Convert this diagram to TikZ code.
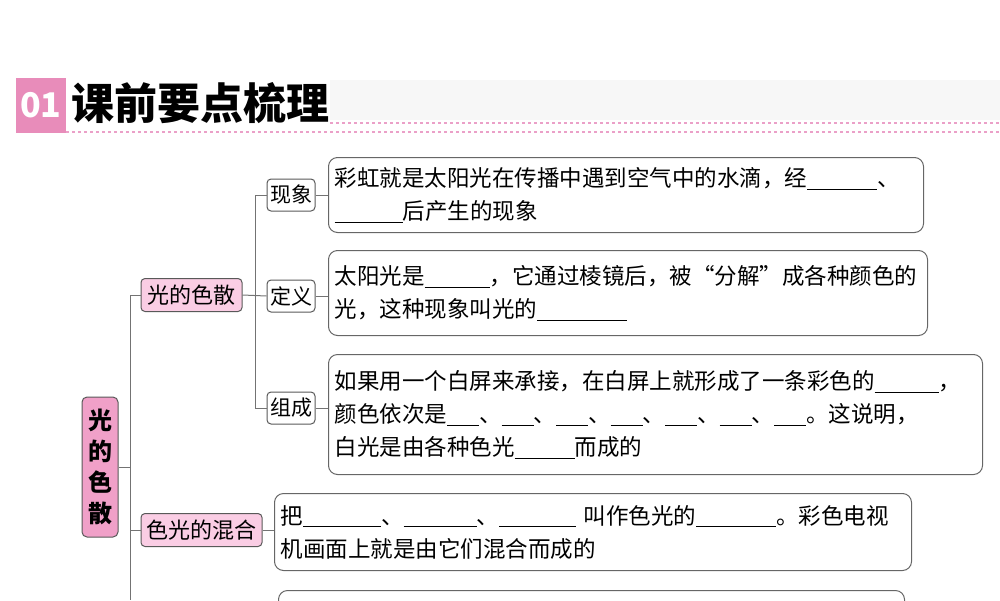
\documentclass[tikz,border=0pt]{standalone}
\usepackage{fontspec}
\setmainfont{Noto Sans CJK SC}
\definecolor{hdr}{RGB}{232,140,186}
\definecolor{dotc}{RGB}{235,160,200}
\definecolor{rootc}{RGB}{240,160,200}
\definecolor{brc}{RGB}{250,205,228}
\begin{document}
\newcommand{\bl}[1]{\rule[-3pt]{#1pt}{0.8pt}}
\begin{tikzpicture}[x=1pt,y=-1pt,
  box/.style={draw=black!60,line width=1pt,rounded corners=9pt,fill=white,anchor=north west,align=left,inner xsep=6pt,inner ysep=0pt,font=\fontsize{22.5}{33}\selectfont},
  sub/.style={draw=black!65,line width=1pt,rounded corners=4pt,fill=white,minimum width=48pt,minimum height=32pt,inner sep=0pt,font=\fontsize{21}{24}\selectfont},
  br/.style={draw=black!65,line width=1pt,rounded corners=4pt,fill=brc,minimum height=33pt,inner sep=2pt,font=\fontsize{22}{24}\selectfont},
  ln/.style={draw=black!55,line width=1pt}]
\useasboundingbox (0,0) rectangle (1000,600);
\clip (0,0) rectangle (1000,600);
% header
\fill[black!3] (330,80) rectangle (1000,120);
\node[fill=hdr,minimum width=50pt,minimum height=55pt,inner sep=0pt,text=white,font=\fontsize{34}{34}\selectfont\bfseries] (n01) at (41,105.5) {01};
\node[anchor=west,inner sep=0pt,font=\fontsize{43}{43}\selectfont\bfseries] (title) at (71,103) {课前要点梳理};
\draw[dotc,line width=1.5pt,dash pattern=on 3pt off 3pt] (330,123) -- (1000,123);
\draw[dotc,line width=1.5pt,dash pattern=on 3pt off 3pt] (66,132) -- (1000,132);
% root
\node[draw=black!65,line width=1pt,rounded corners=5pt,fill=rootc,minimum width=36pt,minimum height=140pt,inner sep=0pt,align=center,font=\fontsize{24}{31}\selectfont\bfseries] (root) at (100,467) {光\\的\\色\\散};
\node[br,minimum width=101pt] (b1) at (191.5,295) {光的色散};
\node[br,minimum width=121pt] (b2) at (201.5,530) {色光的混合};
\node[sub] (s1) at (291,195) {现象};
\node[sub] (s2) at (291,296) {定义};
\node[sub] (s3) at (291,408) {组成};
\node[box,text width=583pt,minimum height=75pt] (c1) at (328,157) {彩虹就是太阳光在传播中遇到空气中的水滴，经\bl{70}、\\\bl{68}后产生的现象};
\node[box,text width=587pt,minimum height=85pt] (c2) at (328,250) {太阳光是\bl{65}，它通过棱镜后，被“分解”成各种颜色的\\光，这种现象叫光的\bl{90}};
\node[box,text width=642pt,minimum height=120pt] (c3) at (328,354) {如果用一个白屏来承接，在白屏上就形成了一条彩色的\bl{64}，\\颜色依次是\bl{32}、\bl{32}、\bl{32}、\bl{32}、\bl{32}、\bl{32}、\bl{32}。这说明，\\白光是由各种色光\bl{60}而成的};
\node[box,text width=625pt,minimum height=77pt] (c4) at (274,493) {把\bl{78}、\bl{73}、\bl{77} 叫作色光的\bl{80}。彩色电视\\机画面上就是由它们混合而成的};
\node[box,text width=614pt,minimum height=60pt] (c5) at (278,590) {};
% connectors
\coordinate (ta) at (130,295);
\coordinate (tb) at (130,600);
\draw[ln] (ta) -- (tb);
\draw[ln] (root.east) -- (root.east -| ta);
\draw[ln] (b1.west) -- (ta);
\draw[ln] (b2.west) -- (b2.west -| ta);
\coordinate (ua) at (255,195);
\coordinate (ub) at (255,408);
\draw[ln] (ua) -- (ub);
\draw[ln] (s1.west) -- (ua);
\draw[ln] (s3.west) -- (ub);
\draw[ln] (b1.east) -- (s2.west);
\draw[ln] (s1.east) -- (s1.east -| c1.west);
\draw[ln] (s2.east) -- (s2.east -| c2.west);
\draw[ln] (s3.east) -- (s3.east -| c3.west);
\draw[ln] (b2.east) -- (b2.east -| c4.west);
\end{tikzpicture}
\end{document}
